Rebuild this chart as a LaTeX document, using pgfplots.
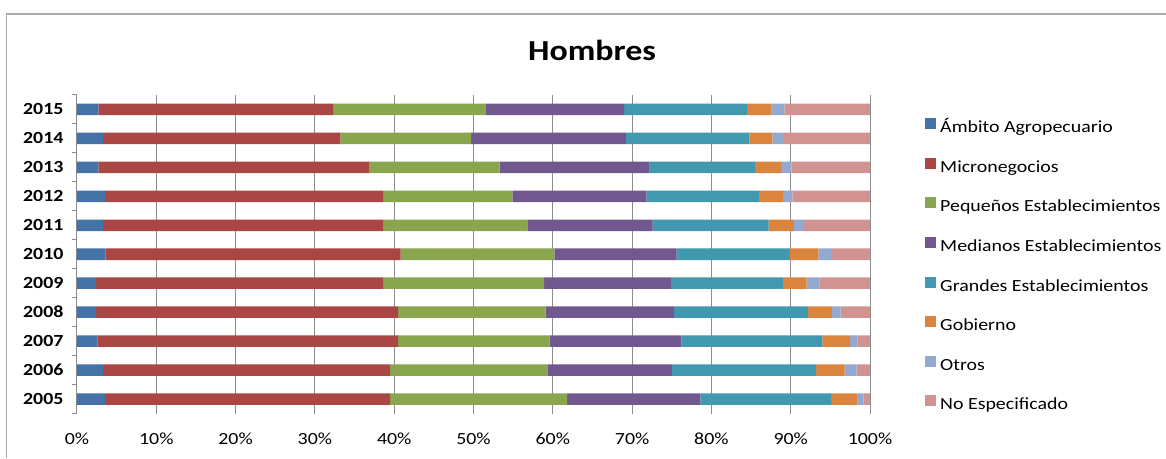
\documentclass[border=0pt]{standalone}
\usepackage{pgfplots}
\usepackage{pgfplotstable}
\pgfplotsset{compat=1.18}
\usepackage{fontspec}
\setmainfont{Carlito}[FakeStretch=1.17]

\definecolor{cA}{HTML}{4572A7}
\definecolor{cB}{HTML}{AA4643}
\definecolor{cC}{HTML}{89A54E}
\definecolor{cD}{HTML}{71588F}
\definecolor{cE}{HTML}{4198AF}
\definecolor{cF}{HTML}{DB843D}
\definecolor{cG}{HTML}{93A9CF}
\definecolor{cH}{HTML}{D19392}
\definecolor{gridc}{HTML}{8C8C8C}

\pgfplotstableread{
y A B C D E F G H
0 3.5 36.0 22.3 16.8 16.5 3.3 0.8 0.8
1 3.3 36.2 19.8 15.7 18.2 3.6 1.5 1.7
2 2.6 37.9 19.1 16.6 17.8 3.5 0.9 1.6
3 2.4 38.1 18.6 16.2 16.9 3.0 1.1 3.7
4 2.4 36.2 20.3 16.0 14.1 3.0 1.6 6.4
5 3.6 37.2 19.4 15.4 14.3 3.6 1.6 4.9
6 3.3 35.3 18.2 15.8 14.6 3.2 1.3 8.3
7 3.5 35.1 16.3 16.9 14.2 3.0 1.2 9.8
8 2.7 34.1 16.5 18.9 13.3 3.3 1.3 9.9
9 3.3 29.9 16.5 19.5 15.6 2.9 1.3 11.0
10 2.7 29.65 19.15 17.5 15.5 3.1 1.6 10.8
}\data

\begin{document}
\begin{tikzpicture}
\useasboundingbox (0pt,0pt) rectangle (1166pt,458pt);
\fill[white] (0pt,0pt) rectangle (1166pt,458pt);
\draw[color=gray!65, line width=1.1pt] (6.5pt,0pt) -- (6.5pt,444pt) -- (1166pt,444pt);
\node[font=\fontsize{29}{34}\selectfont\bfseries] at (592pt,408pt) {Hombres};
\begin{axis}[
  at={(77pt,44.5pt)}, anchor=south west,
  scale only axis, width=793pt, height=318.5pt,
  xbar stacked, bar width=11.5pt,
  xmin=0, xmax=100, ymin=-0.5, ymax=10.5,
  axis x line*=bottom, axis y line*=left,
  x axis line style={draw=none},
  y axis line style={draw=gridc, line width=1pt},
  xtick={0,10,20,30,40,50,60,70,80,90,100},
  xticklabels={0\%,10\%,20\%,30\%,40\%,50\%,60\%,70\%,80\%,90\%,100\%},
  xtick style={draw=none},
  xmajorgrids, major grid style={draw=gridc, line width=1pt},
  ytick={-0.5,0.5,1.5,2.5,3.5,4.5,5.5,6.5,7.5,8.5,9.5,10.5},
  yticklabels={2005,2006,2007,2008,2009,2010,2011,2012,2013,2014,2015,{}},
  ytick style={draw=gridc, line width=1pt},
  tick align=outside, major tick length=5pt,
  yticklabel style={font=\fontsize{17}{20}\selectfont\bfseries, yshift=14.48pt, xshift=-5pt},
  xticklabel style={font=\fontsize{17}{20}\selectfont, yshift=-11pt},
  legend image code/.code={\fill[#1] (0pt,-0.5pt) rectangle (11pt,10.5pt);},
  legend style={at={(rel axis cs:1.0694,0.9278)}, anchor=north west, draw=none, fill=none,
    inner sep=0pt, row sep=21.1pt, font=\fontsize{17}{20}\selectfont,
    cells={anchor=west}, nodes={inner sep=0pt, text height=12pt, text depth=4pt},
    /tikz/every odd column/.append style={column sep=4pt}},
  legend cell align=left,
]
\addplot+[fill=cA, draw=none, mark=none] table[x=A, y=y] {\data};
\addplot+[fill=cB, draw=none, mark=none] table[x=B, y=y] {\data};
\addplot+[fill=cC, draw=none, mark=none] table[x=C, y=y] {\data};
\addplot+[fill=cD, draw=none, mark=none] table[x=D, y=y] {\data};
\addplot+[fill=cE, draw=none, mark=none] table[x=E, y=y] {\data};
\addplot+[fill=cF, draw=none, mark=none] table[x=F, y=y] {\data};
\addplot+[fill=cG, draw=none, mark=none] table[x=G, y=y] {\data};
\addplot+[fill=cH, draw=none, mark=none] table[x=H, y=y] {\data};
\legend{Ámbito Agropecuario, Micronegocios, Pequeños Establecimientos, Medianos Establecimientos, Grandes Establecimientos, Gobierno, Otros, No Especificado}
\end{axis}
\end{tikzpicture}
\end{document}
